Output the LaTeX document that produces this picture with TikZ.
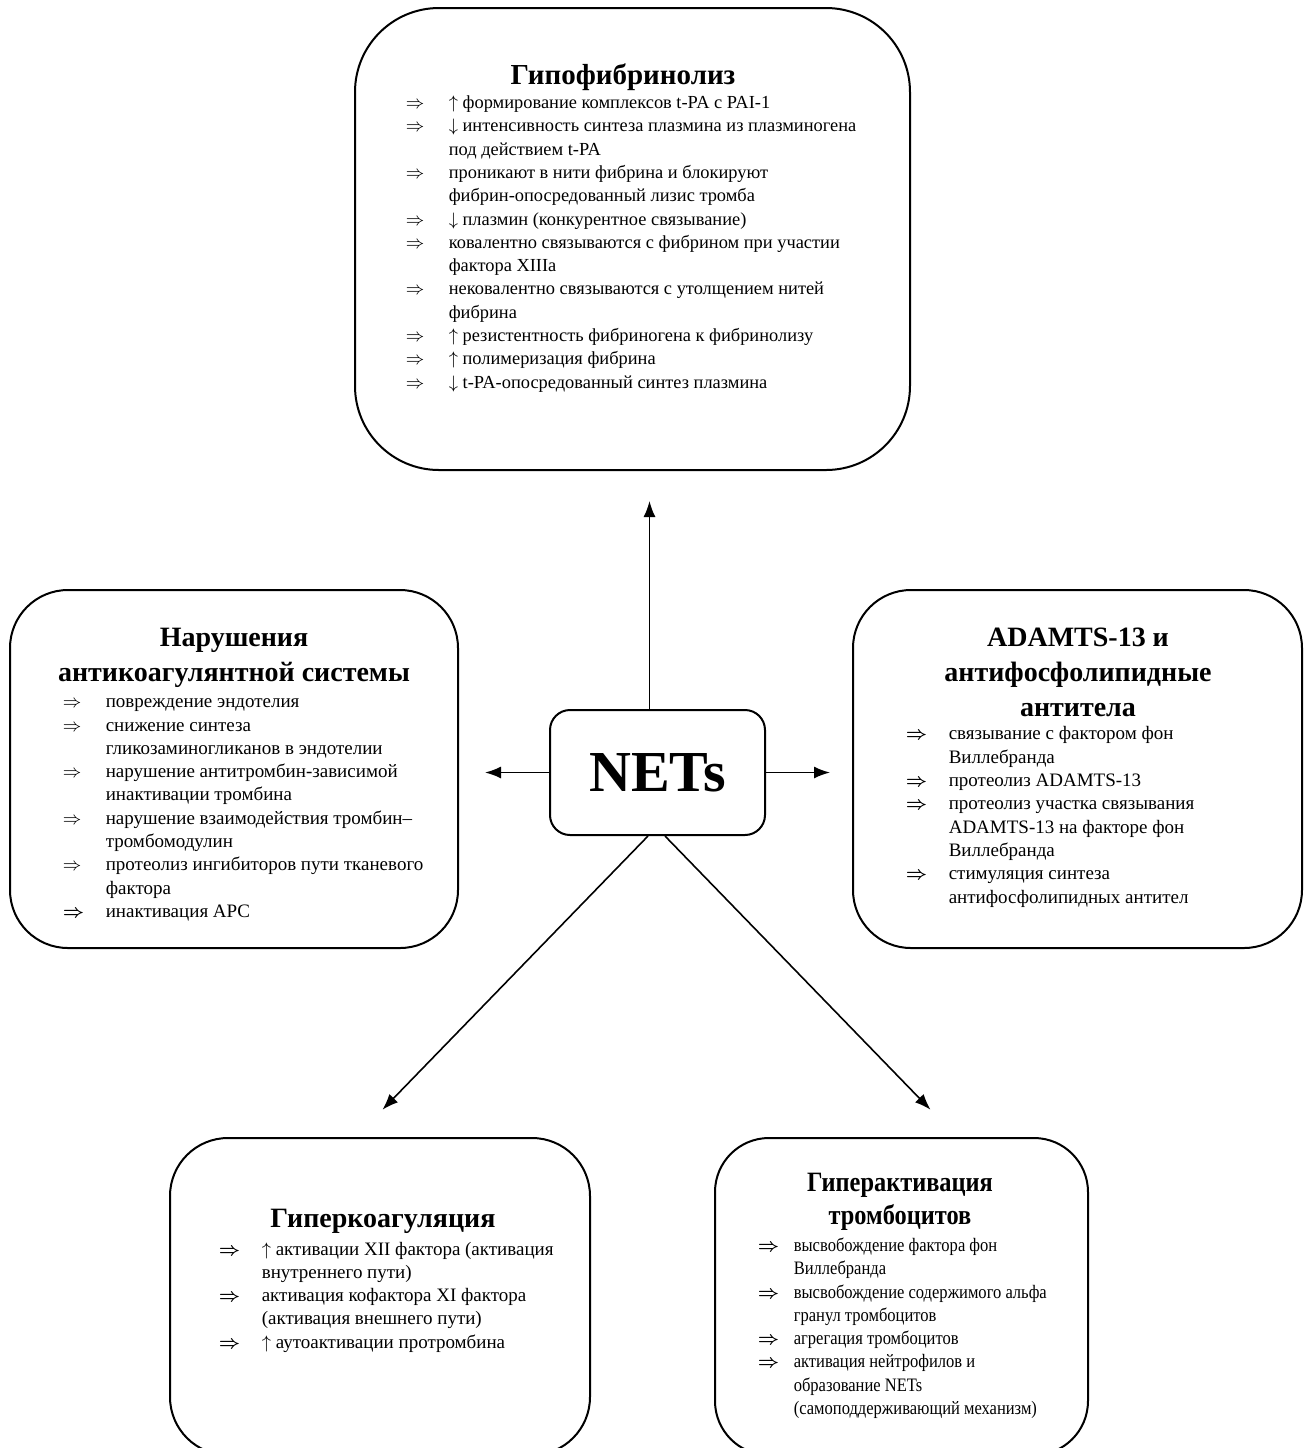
\documentclass[tikz,border=0pt]{standalone}
\usepackage{fontspec}
\setmainfont{Liberation Serif}
\newfontfamily\nrw[FakeStretch=0.87]{Liberation Serif}
\usetikzlibrary{arrows.meta}
\newcommand{\ra}{\makebox[21.5pt][l]{$\Rightarrow$}}
\newcommand{\rb}{\makebox[21.5pt][l]{\boldmath$\Rightarrow$}}
\newcommand{\rc}{\hspace*{21.5pt}}
\newcommand{\rbn}{\makebox[18pt][l]{\boldmath$\Rightarrow$}}
\newcommand{\rcn}{\hspace*{18pt}}
\begin{document}
\begin{tikzpicture}[x=0.5pt,y=-0.5pt,line width=0.8pt,
  box/.style={draw,line width=1pt,inner sep=0pt},
  ttl/.style={anchor=north,align=center,inner sep=0pt,font=\fontsize{14}{17.5}\selectfont\bfseries},
  lst/.style={anchor=north west,align=left,inner sep=0pt,font=\fontsize{9.5}{11.65}\selectfont},
  arr/.style={-{Latex[length=8pt,width=6pt]}}]
\useasboundingbox (0,0) rectangle (1311,1448);
\clip (0,0) rectangle (1311,1448);
% boxes
\node[box,rounded corners=42pt,minimum width=277.5pt,minimum height=231pt](Hf)at(632.5,239){};
\node[box,rounded corners=29pt,minimum width=224pt,minimum height=179pt](Ac)at(234,769){};
\node[box,rounded corners=29pt,minimum width=224.5pt,minimum height=179pt](Ad)at(1077.5,769){};
\node[box,rounded corners=29pt,minimum width=210pt,minimum height=158.5pt](Hc)at(380,1296.5){};
\node[box,rounded corners=27pt,minimum width=186.5pt,minimum height=158.5pt](Hp)at(901.5,1296.5){};
\node[box,rounded corners=10pt,minimum width=107.5pt,minimum height=62.5pt,
  font=\fontsize{29}{30}\selectfont\bfseries](N)at(657.5,772.5){NETs};
% titles
\node[ttl,font=\fontsize{14.5}{18}\selectfont\bfseries](Hf-t)at(623,63){Гипофибринолиз};
\node[ttl](Ac-t)at(234,627){Нарушения\\антикоагулянтной системы};
\node[ttl](Ad-t)at(1078,627){ADAMTS-13 и\\антифосфолипидные\\антитела};
\node[ttl](Hc-t)at(383,1208){Гиперкоагуляция};
\node[ttl,font=\nrw\fontsize{14}{16.5}\selectfont\bfseries](Hp-t)at(900,1172){Гиперактивация\\тромбоцитов};
% lists
\node[lst,font=\fontsize{9.2}{11.65}\selectfont](Hf-l)at(405,95){%
\ra $\uparrow$ формирование комплексов t-PA с PAI-1\\
\ra $\downarrow$ интенсивность синтеза плазмина из плазминогена\\
\rc под действием t-PA\\
\ra проникают в нити фибрина и блокируют\\
\rc фибрин-опосредованный лизис тромба\\
\ra $\downarrow$ плазмин (конкурентное связывание)\\
\ra ковалентно связываются с фибрином при участии\\
\rc фактора XIIIa\\
\ra нековалентно связываются с утолщением нитей\\
\rc фибрина\\
\ra $\uparrow$ резистентность фибриногена к фибринолизу\\
\ra $\uparrow$ полимеризация фибрина\\
\ra $\downarrow$ t-PA-опосредованный синтез плазмина};
\node[lst](Ac-l)at(62,698){%
\ra повреждение эндотелия\\
\ra снижение синтеза\\
\rc гликозаминогликанов в эндотелии\\
\ra нарушение антитромбин-зависимой\\
\rc инактивации тромбина\\
\ra нарушение взаимодействия тромбин–\\
\rc тромбомодулин\\
\ra протеолиз ингибиторов пути тканевого\\
\rc фактора\\
\rb инактивация APC};
\node[lst](Ad-l)at(905,726){%
\rb связывание с фактором фон\\
\rc Виллебранда\\
\rb протеолиз ADAMTS-13\\
\rb протеолиз участка связывания\\
\rc ADAMTS-13 на факторе фон\\
\rc Виллебранда\\
\rb стимуляция синтеза\\
\rc антифосфолипидных антител};
\node[lst](Hc-l)at(218,1241){%
\rb $\uparrow$ активации XII фактора (активация\\
\rc внутреннего пути)\\
\rb активация кофактора XI фактора\\
\rc (активация внешнего пути)\\
\rb $\uparrow$ аутоактивации протромбина};
\node[lst,font=\nrw\fontsize{9.5}{11.65}\selectfont](Hp-l)at(757,1237){%
\rbn высвобождение фактора фон\\
\rcn Виллебранда\\
\rbn высвобождение содержимого альфа\\
\rcn гранул тромбоцитов\\
\rbn агрегация тромбоцитов\\
\rbn активация нейтрофилов и\\
\rcn образование NETs\\
\rcn (самоподдерживающий механизм)};
% arrows
\draw[arr,shorten >=15pt]([xshift=-4pt]N.north)--([xshift=-4pt]N.north |- Hf.south);
\draw[arr,shorten >=13pt](N.west)--(N.west -| Ac.east);
\draw[arr,shorten >=11pt](N.east)--(N.east -| Ad.west);
\draw[arr,shorten >=19pt]([xshift=-4.75pt]N.south)--([xshift=-12pt]Hc.north);
\draw[arr,shorten >=19pt]([xshift=3.75pt]N.south)--([xshift=27.75pt]Hp.north);
\end{tikzpicture}
\end{document}
